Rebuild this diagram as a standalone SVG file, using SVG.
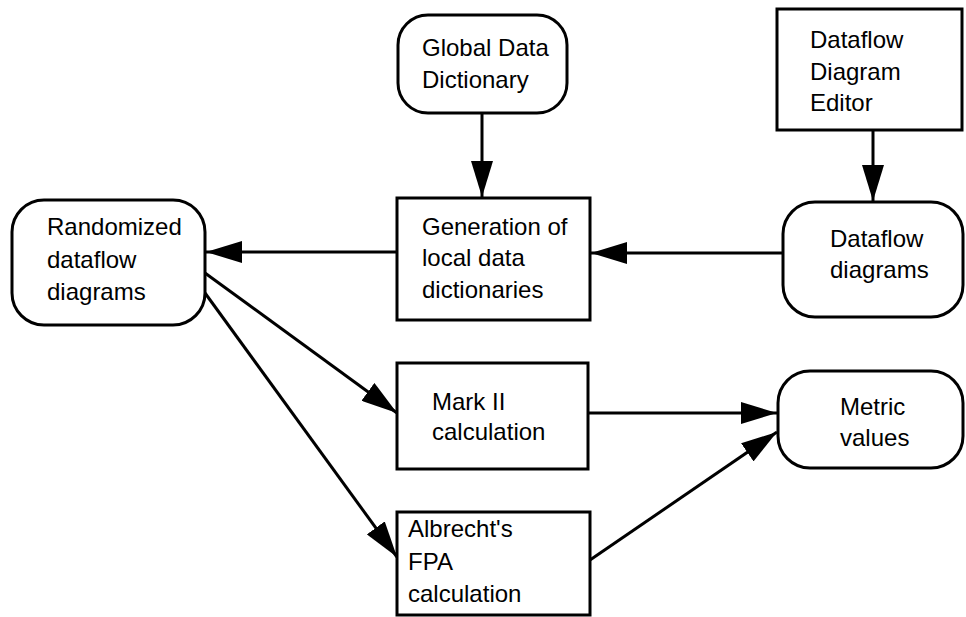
<svg xmlns="http://www.w3.org/2000/svg" width="966" height="617" viewBox="0 0 966 617">
<style>
.box{fill:#fff;stroke:#000;stroke-width:3}
.t{font-family:"Liberation Sans",Arial,sans-serif;font-size:24px;fill:#000}
.c{stroke:#000;stroke-width:3;fill:none;marker-end:url(#ah)}
</style>
<defs>
<marker id="ah" markerUnits="userSpaceOnUse" viewBox="0 0 36 22" markerWidth="36" markerHeight="22" refX="36" refY="11" orient="auto">
<path d="M0,0 L36,11 L0,22 Z" fill="#000"/>
</marker>
</defs>
<rect width="966" height="617" fill="#fff"/>
<g id="connectors">
<line class="c" x1="482" y1="113" x2="482" y2="197"/>
<line class="c" x1="873" y1="130" x2="873" y2="201"/>
<line class="c" x1="783" y1="253" x2="591" y2="253"/>
<line class="c" x1="397" y1="252" x2="206" y2="252"/>
<line class="c" x1="205" y1="273" x2="397" y2="413"/>
<line class="c" x1="205" y1="293" x2="397" y2="557"/>
<line class="c" x1="589" y1="413" x2="777" y2="413"/>
<line class="c" x1="590" y1="560" x2="777" y2="432"/>
</g>
<g id="global-data-dictionary">
<rect class="box" x="398" y="15" width="169" height="98" rx="30"/>
<text class="t" x="422" y="56">Global Data</text>
<text class="t" x="422" y="88">Dictionary</text>
</g>
<g id="dataflow-diagram-editor">
<rect class="box" x="777" y="9" width="185" height="121"/>
<text class="t" x="810" y="48">Dataflow</text>
<text class="t" x="810" y="80">Diagram</text>
<text class="t" x="810" y="111">Editor</text>
</g>
<g id="randomized-dataflow-diagrams">
<rect class="box" x="12" y="200" width="193" height="125" rx="32"/>
<text class="t" x="47" y="235">Randomized</text>
<text class="t" x="47" y="268">dataflow</text>
<text class="t" x="47" y="300">diagrams</text>
</g>
<g id="generation-local-dictionaries">
<rect class="box" x="397" y="198" width="193" height="122"/>
<text class="t" x="422" y="235">Generation of</text>
<text class="t" x="422" y="266">local data</text>
<text class="t" x="422" y="298">dictionaries</text>
</g>
<g id="dataflow-diagrams">
<rect class="box" x="783" y="202" width="180" height="115" rx="32"/>
<text class="t" x="830" y="247">Dataflow</text>
<text class="t" x="830" y="278">diagrams</text>
</g>
<g id="mark-ii-calculation">
<rect class="box" x="397" y="363" width="191" height="106"/>
<text class="t" x="432" y="410">Mark II</text>
<text class="t" x="432" y="440">calculation</text>
</g>
<g id="albrecht-fpa-calculation">
<rect class="box" x="397" y="512" width="193" height="103"/>
<text class="t" x="408" y="537">Albrecht's</text>
<text class="t" x="408" y="570">FPA</text>
<text class="t" x="408" y="602">calculation</text>
</g>
<g id="metric-values">
<rect class="box" x="778" y="371" width="185" height="97" rx="32"/>
<text class="t" x="840" y="415">Metric</text>
<text class="t" x="840" y="446">values</text>
</g>
</svg>
